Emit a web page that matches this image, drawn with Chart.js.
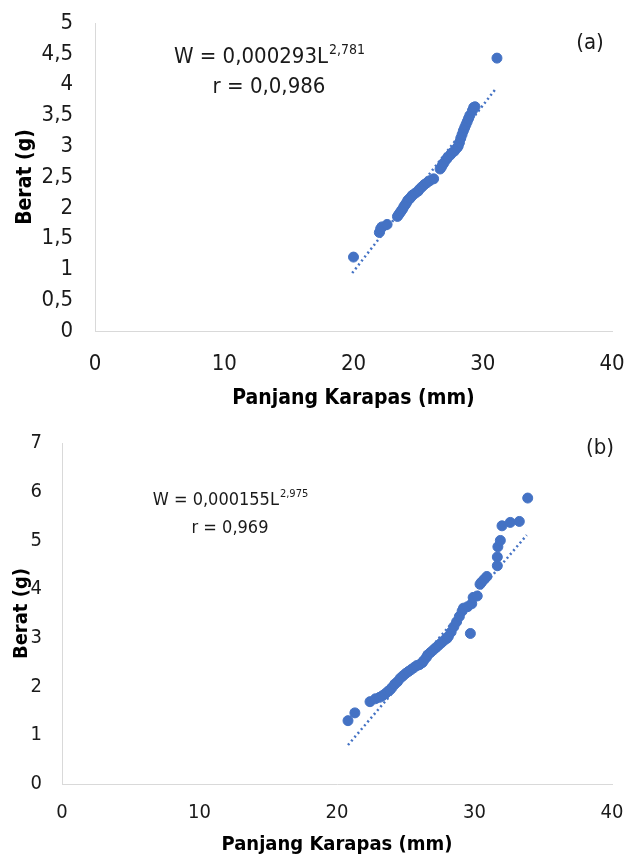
<!DOCTYPE html>
<html>
<head>
<meta charset="utf-8">
<script src="https://cdn.jsdelivr.net/npm/chart.js@4.4.1/dist/chart.umd.min.js"></script>
<style>
  html, body { margin: 0; padding: 0; background: #fff; }
  #wrap { position: relative; width: 627px; height: 858px; overflow: hidden; }
  canvas { position: absolute; left: 0; }
  #chartA { top: 0; }
  #chartB { top: 420px; }
</style>
</head>
<body>
<div id="wrap">
  <canvas id="chartA" width="627" height="420"></canvas>
  <canvas id="chartB" width="627" height="438"></canvas>
</div>
<script>
// (a) panjang karapas (mm) vs berat (g)
const panjangA = [20.0, 22.0, 22.1, 22.2, 22.6, 23.4, 23.5, 23.6, 23.7, 23.8, 23.9, 24.0, 24.1, 24.2, 24.3,
  24.4, 24.5, 24.6, 24.8, 25.0, 25.1, 25.3, 25.5, 25.7, 25.9, 26.2, 26.7, 26.8, 26.9, 27.0, 27.2, 27.3,
  27.5, 27.6, 27.8, 28.0, 28.1, 28.2, 28.3, 28.4, 28.5, 28.6, 28.7, 28.8, 28.9, 29.0, 29.2, 29.3, 29.4, 31.1];
const beratA = [1.20, 1.60, 1.66, 1.69, 1.73, 1.86, 1.89, 1.92, 1.95, 1.98, 2.02, 2.05, 2.08, 2.12, 2.14,
  2.16, 2.19, 2.21, 2.24, 2.27, 2.30, 2.34, 2.38, 2.41, 2.44, 2.47, 2.63, 2.66, 2.70, 2.73, 2.79, 2.82,
  2.86, 2.89, 2.92, 2.97, 3.00, 3.06, 3.13, 3.19, 3.25, 3.30, 3.35, 3.40, 3.45, 3.50, 3.58, 3.63, 3.64, 4.43];
const trenX_A = [19.9, 31.0];
const trenY_A = [0.94, 3.93];

// (b)
const panjangB = [20.8, 21.3, 22.4, 22.8, 23.1, 23.3, 23.5, 23.7, 23.85, 24.0, 24.2, 24.4, 24.6, 24.8, 25.0,
  25.2, 25.4, 25.6, 25.8, 26.0, 26.2, 26.3, 26.5, 26.6, 26.8, 27.0, 27.2, 27.4, 27.6, 27.8, 28.0, 28.1,
  28.3, 28.5, 28.7, 28.9, 29.1, 29.2, 29.5, 29.7, 29.8, 29.9, 30.2, 30.4, 30.5, 30.7, 30.9, 31.66, 31.66,
  31.7, 31.88, 32.0, 32.6, 33.26, 33.87];
const beratB = [1.30, 1.46, 1.69, 1.75, 1.78, 1.81, 1.85, 1.90, 1.93, 1.98, 2.05, 2.10, 2.17, 2.22, 2.27,
  2.31, 2.35, 2.39, 2.43, 2.45, 2.49, 2.53, 2.60, 2.65, 2.70, 2.75, 2.80, 2.85, 2.90, 2.95, 2.99, 3.03,
  3.12, 3.23, 3.33, 3.44, 3.55, 3.61, 3.64, 3.09, 3.70, 3.83, 3.86, 4.10, 4.14, 4.20, 4.26, 4.48, 4.66,
  4.87, 5.00, 5.30, 5.37, 5.39, 5.87];
const trenX_B = [20.8, 33.8];
const trenY_B = [0.80, 5.11];

const biru = '#4472C4';
const fontNama = "'DejaVu Sans Condensed', 'DejaVu Sans', sans-serif";

function gabung(xs, ys) {
  return xs.map((x, i) => ({ x: x, y: ys[i] }));
}

// teks persamaan + label (a)/(b)
const teksPlugin = {
  id: 'teks',
  afterDraw(chart, args, opt) {
    const ctx = chart.ctx;
    ctx.save();
    ctx.fillStyle = '#1a1a1a';
    ctx.textBaseline = 'middle';
    // baris persamaan
    ctx.font = opt.size + 'px ' + fontNama;
    const w1 = ctx.measureText(opt.eq).width;
    ctx.font = Math.round(opt.size * 0.62) + 'px ' + fontNama;
    const w2 = ctx.measureText(opt.exp).width;
    const x0 = opt.cx - (w1 + w2) / 2;
    ctx.font = opt.size + 'px ' + fontNama;
    ctx.textAlign = 'left';
    ctx.fillText(opt.eq, x0, opt.y1);
    ctx.font = Math.round(opt.size * 0.62) + 'px ' + fontNama;
    ctx.fillText(opt.exp, x0 + w1 + 1, opt.y1 - opt.size * 0.3);
    ctx.font = opt.size + 'px ' + fontNama;
    ctx.textAlign = 'center';
    ctx.fillText(opt.r, opt.cx, opt.y2);
    ctx.font = '22px ' + fontNama;
    ctx.fillText(opt.tag, opt.tx, opt.ty);
    ctx.restore();
  }
};

function buatChart(id, xs, ys, tx, ty, ymax, ystep, f, teks) {
  return new Chart(document.getElementById(id), {
    type: 'scatter',
    data: {
      datasets: [{
        data: gabung(xs, ys),
        backgroundColor: biru,
        borderColor: biru,
        pointRadius: f.radius,
        pointHoverRadius: f.radius
      }, {
        type: 'line',
        data: gabung(tx, ty),
        borderColor: biru,
        borderWidth: 2.5,
        borderDash: [2, 3],
        pointRadius: 0,
        fill: false
      }]
    },
    options: {
      responsive: false,
      animation: false,
      layout: { padding: { left: 0, right: f.padRight, top: f.padTop, bottom: 0 } },
      plugins: {
        legend: { display: false },
        tooltip: { enabled: false },
        teks: teks
      },
      scales: {
        x: {
          type: 'linear',
          min: 0, max: 40,
          ticks: {
            stepSize: 10, color: '#1a1a1a', padding: f.xTickPad,
            font: { family: fontNama, size: f.tick }
          },
          grid: { display: false, drawTicks: false },
          border: { color: '#d9d9d9', width: 1 },
          title: {
            display: true, text: 'Panjang Karapas (mm)', color: '#000',
            font: { family: fontNama, size: f.title, weight: 'bold' },
            padding: { top: 0, bottom: f.xTitlePad }
          },
          afterFit: s => {
            s.height = f.xHeight;
            s.paddingLeft = 0;
            s.paddingRight = 0;
          }
        },
        y: {
          min: 0, max: ymax,
          ticks: {
            stepSize: ystep, color: '#1a1a1a', padding: f.yTickPad,
            font: { family: fontNama, size: f.tick },
            callback: v => String(v).replace('.', ',')
          },
          grid: { display: false, drawTicks: false },
          border: { color: '#d9d9d9', width: 1 },
          title: {
            display: true, text: 'Berat (g)', color: '#000',
            font: { family: fontNama, size: f.title, weight: 'bold' },
            padding: { top: f.yTitlePad, bottom: 0 }
          },
          afterFit: s => {
            s.width = f.yWidth;
            s.paddingTop = 0;
            s.paddingBottom = 0;
          }
        }
      }
    },
    plugins: [teksPlugin]
  });
}

buatChart('chartA', panjangA, beratA, trenX_A, trenY_A, 5, 0.5,
  { radius: 5, padRight: 15, padTop: 23, xHeight: 89, xTickPad: 20, xTitlePad: 9,
    yWidth: 95, yTickPad: 22, yTitlePad: 13, tick: 22, title: 21 },
  { eq: 'W = 0,000293L', exp: '2,781', r: 'r = 0,0,986', size: 22,
    cx: 269, y1: 57, y2: 87, tag: '(a)', tx: 590, ty: 43 });

buatChart('chartB', panjangB, beratB, trenX_B, trenY_B, 7, 1,
  { radius: 5, padRight: 15, padTop: 23, xHeight: 74, xTickPad: 17, xTitlePad: 1,
    yWidth: 62, yTickPad: 20, yTitlePad: 10, tick: 20, title: 20 },
  { eq: 'W = 0,000155L', exp: '2,975', r: 'r = 0,969', size: 18,
    cx: 230, y1: 80, y2: 108, tag: '(b)', tx: 600, ty: 28 });
</script>
</body>
</html>
